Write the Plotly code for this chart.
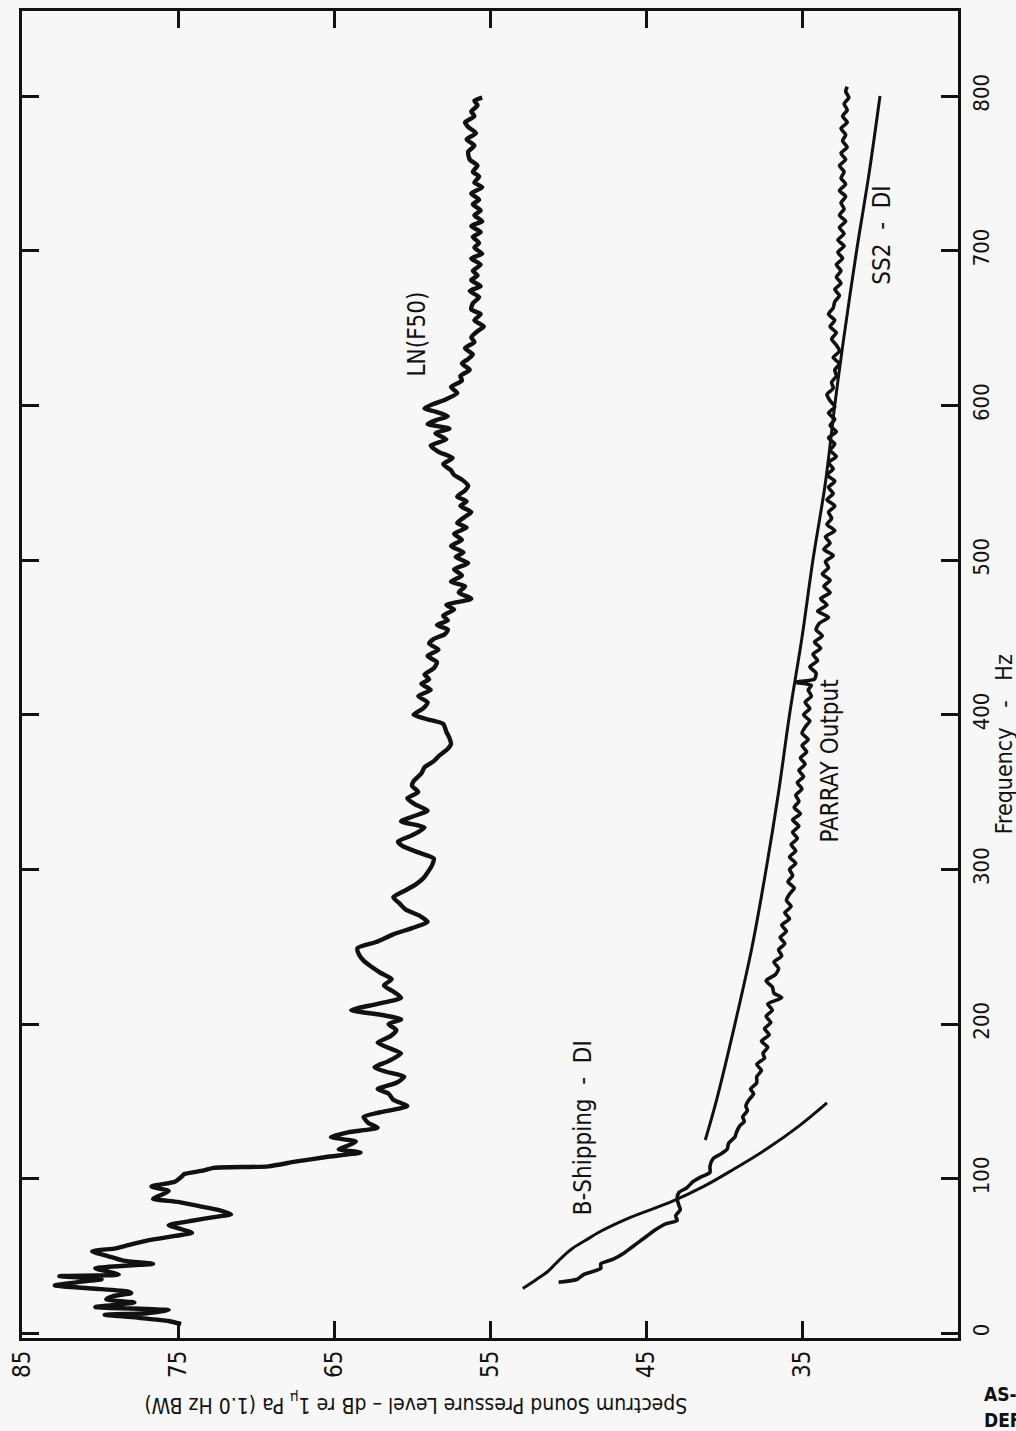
import plotly.graph_objects as go

# LN(F50) ambient noise spectrum
ln_freq = [6, 8, 10, 12, 13, 15, 17, 19, 20, 22, 24, 26, 27, 29, 31, 33, 35, 37, 38, 40,
           42, 44, 45, 47, 50, 53, 55, 57, 60, 63, 65, 68, 70, 73, 75, 77, 80, 82, 85, 87,
           89, 92, 95, 98, 101, 103, 105, 107, 108, 111, 114, 117, 119, 121, 124, 127, 130, 133, 136, 140,
           143, 147, 151, 155, 158, 162, 166, 169, 172, 176, 181, 185, 188, 192, 196, 200, 203, 206, 209, 213,
           217, 221, 225, 229, 233, 237, 241, 245, 249, 253, 258, 262, 266, 270, 274, 278, 282, 286, 290, 294,
           298, 303, 307, 311, 315, 318, 322, 327, 331, 334, 338, 342, 346, 350, 354, 357, 362, 366, 370, 374,
           378, 381, 385, 389, 394, 397, 400, 404, 408, 412, 416, 420, 423, 426, 430, 434, 438, 442, 446, 449,
           452, 455, 458, 461, 464, 468, 471, 475, 479, 483, 486, 490, 494, 498, 502, 505, 509, 513, 517, 521,
           524, 528, 531, 535, 538, 541, 545, 548, 552, 555, 558, 562, 566, 570, 574, 578, 582, 585, 588, 591,
           593, 596, 598, 601, 604, 608, 612, 616, 619, 623, 627, 630, 633, 637, 641, 644, 648, 651, 655, 659,
           662, 666, 670, 674, 677, 681, 684, 687, 691, 695, 698, 702, 705, 709, 712, 716, 719, 723, 726, 730,
           733, 737, 741, 744, 748, 751, 755, 759, 764, 768, 772, 776, 780, 783, 787, 790, 794, 797, 799]
ln_spl = [74.8, 75.6, 77.5, 79.7, 77.0, 75.6, 80.3, 78.5, 77.8, 79.6, 79.2, 78.0, 78.2, 80.5, 82.9, 81.5, 79.9, 82.6, 78.8, 79.5,
          80.3, 78.0, 76.6, 78.5, 79.5, 80.5, 79.0, 78.2, 77.0, 75.2, 74.1, 75.0, 75.6, 74.0, 72.8, 71.6, 72.5, 73.5, 75.0, 76.6,
          76.2, 75.6, 76.7, 75.2, 74.8, 74.6, 73.5, 72.7, 69.2, 67.5, 65.5, 63.3, 64.7, 64.2, 63.6, 65.2, 64.1, 62.2, 62.8, 63.1,
          62.0, 60.3, 61.2, 61.5, 62.2, 61.0, 60.5, 61.6, 62.4, 61.5, 60.7, 61.6, 62.2, 61.4, 61.0, 61.5, 60.7, 62.0, 63.9, 62.2,
          60.7, 61.2, 61.8, 61.3, 62.0, 62.6, 63.1, 63.4, 63.5, 62.3, 61.2, 60.0, 59.0, 59.5, 60.4, 60.8, 61.2, 60.5, 59.8, 59.3,
          59.0, 58.7, 58.6, 59.6, 60.6, 60.9, 60.0, 59.2, 60.7, 60.0, 59.0, 59.8, 60.3, 59.6, 60.0, 59.9, 59.4, 59.2, 58.6, 58.2,
          57.7, 57.5, 57.6, 57.8, 58.0, 59.0, 59.9, 59.3, 59.0, 59.6, 58.8, 59.4, 58.9, 59.2, 58.6, 58.4, 59.0, 58.3, 58.9, 58.6,
          57.9, 57.7, 58.4, 57.7, 58.0, 57.3, 57.8, 56.2, 57.0, 56.6, 57.5, 56.8, 57.3, 56.4, 57.2, 56.7, 57.5, 56.8, 57.3, 56.5,
          57.1, 56.6, 56.2, 56.9, 56.5, 57.1, 56.6, 56.4, 56.8, 57.3, 57.5, 58.0, 57.4, 58.3, 58.8, 57.8, 58.5, 57.6, 59.0, 58.3,
          57.7, 58.5, 59.2, 58.6, 57.8, 57.1, 57.5, 56.8, 56.9, 56.3, 56.8, 56.4, 56.1, 56.6, 56.0, 56.2, 55.8, 55.4, 56.0, 55.6,
          56.2, 56.1, 55.7, 56.3, 55.6, 56.2, 55.8, 56.1, 55.6, 56.2, 55.5, 56.0, 55.7, 56.1, 55.6, 56.2, 55.5, 56.0, 55.6, 56.1,
          55.7, 56.2, 55.5, 56.0, 55.7, 56.1, 55.8, 56.3, 56.4, 56.0, 56.5, 55.9, 56.4, 56.6, 56.0, 56.2, 55.8, 56.0, 55.5]

# PARRAY output spectrum
pa_freq = [33, 35, 38, 42, 45, 48, 52, 55, 58, 61, 64, 67, 71, 73, 76, 80, 83, 87, 91, 94,
           98, 101, 104, 108, 113, 116, 119, 123, 127, 130, 134, 137, 140, 144, 147, 151, 155, 158, 162, 166,
           170, 174, 178, 181, 185, 189, 193, 197, 201, 205, 209, 213, 217, 220, 224, 228, 232, 236, 240, 244,
           248, 252, 256, 260, 264, 268, 272, 276, 280, 284, 288, 292, 296, 300, 304, 308, 312, 316, 320, 324,
           328, 332, 336, 340, 344, 348, 352, 356, 360, 364, 368, 372, 376, 380, 384, 388, 392, 396, 400, 404,
           408, 412, 416, 419, 421, 423, 427, 431, 435, 439, 443, 447, 451, 455, 459, 463, 467, 471, 475, 479,
           483, 487, 491, 495, 499, 503, 507, 511, 515, 519, 523, 527, 531, 535, 539, 543, 547, 551, 555, 559,
           563, 567, 571, 575, 579, 583, 587, 591, 595, 599, 603, 607, 611, 615, 619, 623, 627, 631, 635, 639,
           643, 647, 651, 655, 659, 663, 667, 671, 675, 679, 683, 687, 691, 695, 699, 703, 707, 711, 715, 719,
           723, 727, 731, 735, 739, 743, 747, 751, 755, 759, 763, 767, 771, 775, 779, 783, 787, 791, 795, 799,
           803, 806]
pa_spl = [50.6, 49.4, 49.0, 47.9, 47.9, 47.1, 46.4, 46.0, 45.6, 45.2, 44.8, 44.4, 43.7, 43.0, 43.1, 42.8, 42.9, 43.0, 42.9, 42.4,
          42.0, 41.5, 40.9, 40.9, 40.7, 40.2, 39.8, 39.7, 39.3, 39.2, 39.0, 38.7, 38.8, 38.5, 38.6, 38.4, 38.1, 38.3, 37.9, 37.9,
          37.6, 37.9, 37.4, 37.5, 37.2, 37.6, 37.1, 37.4, 37.0, 37.3, 36.9, 37.2, 36.3, 36.8, 36.9, 37.3, 36.7, 36.5, 36.8, 36.3,
          36.5, 36.1, 36.4, 36.0, 36.3, 35.8, 36.1, 35.7, 36.0, 35.8, 35.5, 35.9, 35.6, 35.8, 35.4, 35.8, 35.4, 35.7, 35.3, 35.6,
          35.2, 35.6, 35.1, 35.5, 35.2, 35.4, 35.0, 35.3, 34.9, 35.2, 34.8, 35.1, 34.7, 35.0, 34.6, 35.0, 34.8, 34.5, 34.9, 34.5,
          34.8, 34.4, 34.6, 34.4, 35.4, 34.2, 34.1, 34.5, 34.0, 34.3, 33.8, 34.2, 33.7, 34.1, 33.9, 33.3, 34.0, 33.4, 33.8, 33.2,
          33.6, 33.2, 33.7, 33.3, 33.5, 33.0, 33.6, 33.2, 33.5, 32.9, 33.4, 33.1, 33.3, 32.9, 33.4, 33.0, 33.3, 32.9, 33.4, 33.0,
          33.3, 32.8, 33.2, 32.9, 33.3, 32.8, 33.2, 32.9, 33.3, 32.9, 33.2, 33.4, 33.0, 33.1, 32.8, 32.9, 32.6, 33.0, 32.6, 32.8,
          33.1, 32.8, 33.2, 32.9, 33.3, 33.0, 32.9, 32.6, 32.9, 32.5, 32.8, 32.5, 32.8, 32.4, 32.7, 32.3, 32.7, 32.3, 32.6, 32.2,
          32.6, 32.3, 32.5, 32.2, 32.6, 32.2, 32.5, 32.3, 32.6, 32.2, 32.5, 32.1, 32.4, 32.2, 32.5, 32.1, 32.4, 32.1, 32.3, 32.0,
          32.2, 32.1]

# SS2 - DI
ss_freq = [125, 150, 200, 250, 300, 350, 400, 450, 500, 550, 600, 638, 700, 750, 800]
ss_spl = [41.2, 40.5, 39.3, 38.2, 37.3, 36.5, 35.8, 35.0, 34.3, 33.5, 32.9, 32.4, 31.5, 30.7, 30.0]

# B-Shipping - DI
bs_freq = [29, 35, 40, 45, 50, 55, 60, 66, 75, 85, 95, 106, 119, 134, 149]
bs_spl = [52.9, 52.0, 51.3, 50.8, 50.3, 49.7, 48.9, 47.9, 46.0, 43.4, 41.3, 39.4, 37.3, 35.2, 33.4]

spl_ticks = [85, 75, 65, 55, 45, 35]
freq_ticks = [0, 100, 200, 300, 400, 500, 600, 700, 800]

W, H = 1016, 1431
ML, MR, MT, MB = 20, 58, 8, 93
FONT = "DejaVu Sans Condensed, DejaVu Sans, sans-serif"
INK = "#111111"
PAPER = "#f7f7f7"


def px(x, y):
    """Pixel position on the page -> paper coordinates."""
    return (x - ML) / (W - ML - MR), (H - MB - y) / (H - MT - MB)


fig = go.Figure()
fig.add_trace(go.Scatter(x=ln_spl, y=ln_freq, mode="lines",
                         line=dict(color=INK, width=4.4, shape="spline", smoothing=0.6),
                         name="LN(F50)"))
fig.add_trace(go.Scatter(x=pa_spl, y=pa_freq, mode="lines",
                         line=dict(color=INK, width=3.6, shape="spline", smoothing=0.6),
                         name="PARRAY Output"))
fig.add_trace(go.Scatter(x=ss_spl, y=ss_freq, mode="lines",
                         line=dict(color=INK, width=3, shape="spline"), name="SS2 - DI"))
fig.add_trace(go.Scatter(x=bs_spl, y=bs_freq, mode="lines",
                         line=dict(color=INK, width=3, shape="spline"), name="B-Shipping - DI"))

axis_common = dict(
    showgrid=False, zeroline=False, showline=True, linecolor=INK, linewidth=3,
    mirror="ticks", ticks="inside", ticklen=17, tickwidth=3, tickcolor=INK,
    tickangle=-90,
)
fig.update_xaxes(range=[85, 25], tickvals=spl_ticks,
                 tickfont=dict(family=FONT, size=24, color=INK), **axis_common)
fig.update_yaxes(range=[-3, 855], tickvals=freq_ticks, side="right", ticklabelstandoff=2,
                 tickfont=dict(family=FONT, size=22, color=INK), **axis_common)

notes = [
    ("LN(F50)", 416, 332, -90, 24),
    ("SS2  -  DI", 882, 233, -90, 24),
    ("PARRAY Output", 830, 760, -90, 24),
    ("B-Shipping  -  DI", 583, 1127, -90, 24),
    ("Frequency   -   Hz", 1004, 743, -90, 23),
    ("Spectrum Sound Pressure Level – dB re 1<sub>μ</sub> Pa (1.0 Hz BW)", 415, 1404, 180, 21),
]
for text, x, y, ang, size in notes:
    ax, ay = px(x, y)
    fig.add_annotation(text=text, x=ax, y=ay, xref="paper", yref="paper",
                       showarrow=False, textangle=ang, xanchor="center", yanchor="middle",
                       font=dict(family=FONT, size=size, color=INK))

for text, y in [("AS-", 1394), ("DEF", 1420)]:
    ax, ay = px(982, y)
    fig.add_annotation(text="<b>" + text + "</b>", x=ax, y=ay, xref="paper", yref="paper",
                       showarrow=False, xanchor="left", yanchor="middle",
                       font=dict(family=FONT, size=19, color=INK))

fig.update_layout(
    width=W, height=H, showlegend=False,
    margin=dict(l=ML, r=MR, t=MT, b=MB),
    paper_bgcolor=PAPER, plot_bgcolor=PAPER,
)

fig.write_html("out.html")
